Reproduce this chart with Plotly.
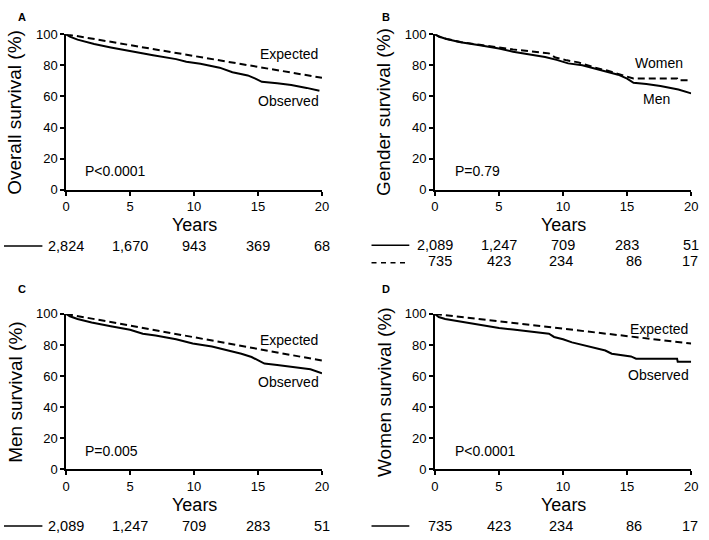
import plotly.graph_objects as go

W, H = 709, 540

# ---------------- data ----------------
tick_years = [0, 5, 10, 15, 20]
y_ticks = [0, 20, 40, 60, 80, 100]

A_obs_years = [0, 0.3, 0.9, 2.2, 3.5, 4.7, 6.0, 6.8, 8.6, 9.4, 10.5, 11.2, 12.0, 13.0, 14.2, 14.8, 15.3, 16.5, 17.6, 18.8, 19.8]
A_obs_surv = [100, 98.5, 96.5, 93.7, 91.5, 89.6, 87.6, 86.5, 84, 82.3, 81, 79.8, 78.5, 75.6, 73.5, 71.5, 69.4, 68.5, 67.3, 65.5, 63.6]
A_exp_years = [0, 10, 20]
A_exp_surv = [100, 85.8, 72]

B_men_years = [0, 0.3, 0.9, 2, 3.5, 5, 6.1, 7.5, 8.6, 9.5, 10.4, 11.5, 12.5, 13.5, 14.3, 15, 15.5, 16.5, 17.6, 19, 20]
B_men_surv = [100, 98.5, 96.9, 94.8, 92.9, 90.8, 88.75, 87, 85.4, 83.5, 81.25, 80, 77.7, 75.8, 74, 71.5, 68.75, 68, 66.7, 64.5, 62]
B_women_years = [0, 0.3, 0.9, 2, 3.5, 5, 6.1, 7.5, 8.9, 9.4, 10.3, 11.2, 12.5, 13.5, 14.3, 14.8, 15.5, 17, 18.9, 18.95, 20]
B_women_surv = [100, 98.6, 97, 95, 93.2, 91.2, 90.2, 89, 87.7, 85, 83.2, 81.9, 78.5, 76.5, 74.6, 73.2, 71.5, 71.5, 71.5, 70.4, 70.4]

C_obs_years = [0, 0.3, 0.9, 2, 3.5, 5, 6, 7, 8.6, 9.9, 11.4, 12.5, 13.7, 14.5, 15, 15.5, 16.5, 17.6, 19.1, 20]
C_obs_surv = [100, 98.5, 96.7, 94.5, 92.1, 89.8, 87.3, 86.2, 83.75, 81, 79, 77, 74.4, 72.3, 70, 68.1, 67.2, 66, 64.4, 61.9]
C_exp_years = [0, 10, 20]
C_exp_surv = [100, 85, 70]

D_obs_years = [0, 0.3, 0.8, 2.2, 4.3, 5, 6.1, 7.4, 8.9, 9.3, 10, 10.7, 12, 13.3, 13.8, 15.3, 15.7, 18.9, 18.95, 20]
D_obs_surv = [100, 98, 96.7, 94.8, 92.1, 91, 90, 88.6, 87.3, 85.2, 83.75, 81.7, 79, 76.5, 74.4, 72.7, 71.25, 71.25, 69.2, 69.2]
D_exp_years = [0, 10, 20]
D_exp_surv = [100, 90.5, 81]

A_risk = ["2,824", "1,670", "943", "369", "68"]
B_risk_men = ["2,089", "1,247", "709", "283", "51"]
B_risk_women = ["735", "423", "234", "86", "17"]
C_risk = ["2,089", "1,247", "709", "283", "51"]
D_risk = ["735", "423", "234", "86", "17"]

# ---------------- layout helpers ----------------
FONT = "Arial, Liberation Sans, sans-serif"
px_x = lambda x: x / W
px_y = lambda y: 1 - y / H

panels = {
    # name: (x0px, x1px, ytop, ybot)
    "A": (63, 323, 28, 188),
    "B": (437.7, 698, 28, 188),
    "C": (63, 323, 315.7, 475.7),
    "D": (437.7, 698, 315.7, 475.7),
}
axis_ids = {"A": ("x", "y", ""), "B": ("x2", "y2", "2"), "C": ("x3", "y3", "3"), "D": ("x4", "y4", "4")}

fig = go.Figure()
solid = dict(color="black", width=2)
dashed = dict(color="black", width=2, dash="7px,4px")

def add(name, xs, ys, line):
    xa, ya, _ = axis_ids[name]
    fig.add_trace(go.Scatter(x=xs, y=ys, mode="lines", line=line, xaxis=xa, yaxis=ya,
                             showlegend=False, hoverinfo="skip"))

add("A", A_exp_years, A_exp_surv, dashed)
add("A", A_obs_years, A_obs_surv, solid)
add("B", B_women_years, B_women_surv, dashed)
add("B", B_men_years, B_men_surv, solid)
add("C", C_exp_years, C_exp_surv, dashed)
add("C", C_obs_years, C_obs_surv, solid)
add("D", D_exp_years, D_exp_surv, dashed)
add("D", D_obs_years, D_obs_surv, solid)

layout = dict(
    width=W, height=H, margin=dict(l=0, r=0, t=0, b=0),
    paper_bgcolor="white", plot_bgcolor="white",
    font=dict(family=FONT, color="black"),
    showlegend=False,
)
for name, (x0, x1, yt, yb) in panels.items():
    xa, ya, suf = axis_ids[name]
    layout["xaxis" + suf] = dict(
        domain=[px_x(x0), px_x(x1)], anchor=ya, range=[0, 20],
        tickvals=tick_years, ticks="outside", ticklen=4, tickwidth=1.5, tickcolor="black",
        showline=True, linecolor="black", linewidth=1.5, showgrid=False, zeroline=False,
        tickfont=dict(size=13, family=FONT, color="black"), fixedrange=True,
    )
    layout["yaxis" + suf] = dict(
        domain=[px_y(yb), px_y(yt)], anchor=xa, range=[0, 100],
        tickvals=y_ticks, ticks="outside", ticklen=4, tickwidth=1.5, tickcolor="black",
        showline=True, linecolor="black", linewidth=1.5, showgrid=False, zeroline=False,
        tickfont=dict(size=13, family=FONT, color="black"), fixedrange=True,
    )
fig.update_layout(**layout)

ann = []
def text(xp, yp, t, size=14, xanchor="center", bold=False, angle=0):
    ann.append(dict(x=px_x(xp), y=px_y(yp), xref="paper", yref="paper", text=(f"<b>{t}</b>" if bold else t),
                    showarrow=False, xanchor=xanchor, yanchor="middle", textangle=angle,
                    font=dict(size=size, family=FONT, color="black")))

# panel letters
text(18, 10, "A", 11, bold=True)
text(388, 10, "B", 11, bold=True)
text(18, 290, "C", 11, bold=True)
text(388, 290, "D", 11, bold=True)

# y-axis titles
text(11, 108, "Overall survival (%)", 19, angle=-90)
text(386, 108, "Gender survival (%)", 19, angle=-90)
text(11, 396, "Men survival (%)", 19, angle=-90)
text(386, 396, "Women survival (%)", 19, angle=-90)

# x-axis titles
text(194, 224.5, "Years", 18)
text(568, 224.5, "Years", 18)
text(194, 512, "Years", 18)
text(568, 512, "Years", 18)

# curve labels
text(289, 48, "Expected")
text(289, 97, "Observed")
text(665, 58, "Women")
text(663, 95, "Men")
text(289, 342, "Expected")
text(289, 386, "Observed")
text(665, 331, "Expected")
text(665, 379, "Observed")

# P values
text(80, 169, "P<0.0001", xanchor="left")
text(456, 169, "P=0.79", xanchor="left")
text(80, 457, "P=0.005", xanchor="left")
text(456, 457, "P<0.0001", xanchor="left")

# numbers at risk
RISK_FONT = dict(size=14.5, family=FONT, color="black")
right_shift = [19, 14, 12.3, 17.3, 9]

def risk_row(panel, labels, ypx, right=False):
    xa = axis_ids[panel][0]
    for i, (xv, lab) in enumerate(zip(tick_years, labels)):
        d = dict(x=xv, y=px_y(ypx), xref=xa, yref="paper", text=lab, showarrow=False,
                 xanchor="center", yanchor="middle", font=RISK_FONT)
        if right:
            d.update(xanchor="right", xshift=right_shift[i])
        ann.append(d)

risk_row("A", A_risk, 245.5)
risk_row("B", B_risk_men, 245)
risk_row("B", B_risk_women, 261.5, right=True)
risk_row("C", C_risk, 533.5)
risk_row("D", D_risk, 533.5, right=True)

fig.update_layout(annotations=ann)

shapes = []
def seg(x0, x1, ypx, dash="solid"):
    shapes.append(dict(type="line", xref="paper", yref="paper", x0=px_x(x0), x1=px_x(x1),
                       y0=px_y(ypx), y1=px_y(ypx), line=dict(color="black", width=1.5, dash=dash)))
seg(0, 39, 245.7)
seg(373.3, 411.7, 245)
seg(373.3, 411.7, 263, "5px,4.5px")
seg(0, 39, 533.7)
seg(373.3, 411.7, 533.7)
fig.update_layout(shapes=shapes)

fig.write_html("out.html", config={"displayModeBar": False},
               post_script="document.body.style.margin='0';document.body.style.overflow='hidden';")
